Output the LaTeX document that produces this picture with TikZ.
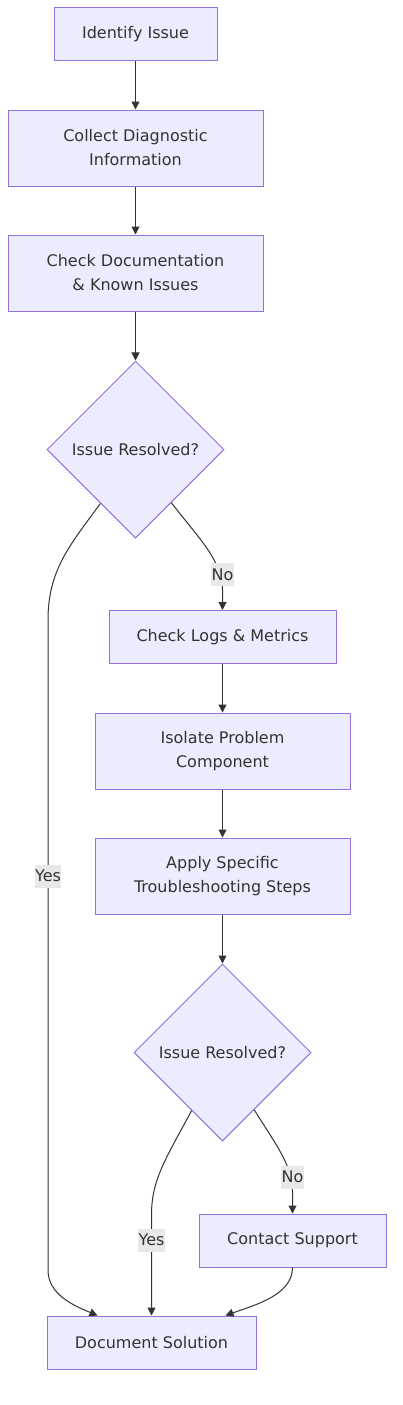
\documentclass[tikz,border=0pt]{standalone}
\usepackage{fontspec}
\setmainfont{DejaVu Sans}
\usetikzlibrary{shapes.geometric,arrows.meta,calc}
\definecolor{boxfill}{HTML}{ECECFF}
\definecolor{boxline}{HTML}{9370DB}
\definecolor{ink}{HTML}{333333}
\definecolor{lblbg}{HTML}{E8E8E8}
\begin{document}
\begin{tikzpicture}[x=1pt,y=-1pt,
  font=\fontsize{16pt}{24pt}\selectfont,
  box/.style={rectangle,draw=boxline,fill=boxfill,line width=1pt,text=ink,align=center,inner sep=0pt},
  dec/.style={diamond,aspect=1,draw=boxline,fill=boxfill,line width=1pt,text=ink,inner sep=0pt,minimum width=177pt,minimum height=177pt},
  edge/.style={draw=ink,line width=1pt,-{Triangle[length=8pt,width=8pt]}},
  lbl/.style={fill=lblbg,text=ink,inner xsep=0.5pt,inner ysep=0pt,minimum height=23pt}]
\useasboundingbox (0,0) rectangle (402,1405);
\node[box,minimum width=163pt,minimum height=53pt] (id) at (135.5,34.5) {Identify Issue};
\node[box,minimum width=255pt,minimum height=76pt] (cd) at (135.5,148) {Collect Diagnostic\\Information};
\node[box,minimum width=255pt,minimum height=76pt] (cdoc) at (135.5,273) {Check Documentation\\\& Known Issues};
\node[dec] (d1) at (135.5,449.5) {Issue Resolved?};
\node[box,minimum width=227pt,minimum height=53pt] (logs) at (222.5,637) {Check Logs \& Metrics};
\node[box,minimum width=255pt,minimum height=76pt] (iso) at (222.5,751) {Isolate Problem\\Component};
\node[box,minimum width=255pt,minimum height=76pt] (app) at (222.5,876) {Apply Specific\\Troubleshooting Steps};
\node[dec] (d2) at (222.5,1052.5) {Issue Resolved?};
\node[box,minimum width=187pt,minimum height=53pt] (cs) at (292.5,1240.5) {Contact Support};
\node[box,minimum width=209pt,minimum height=53pt] (doc) at (151.5,1342.5) {Document Solution};

\draw[edge] (id) -- (cd);
\draw[edge] (cd) -- (cdoc);
\draw[edge] (cdoc) -- (d1);
\draw[edge] (d1.-123) .. controls (70,545) and (48,570) .. (48,620) -- (48,1270) .. controls (48,1295) and (75,1306) .. ($(doc.north)+(-54,0)$);
\draw[edge] (d1.-56) .. controls (200,540) and (222,560) .. (222.5,590) -- (logs.north);
\draw[edge] (logs) -- (iso);
\draw[edge] (iso) -- (app);
\draw[edge] (app) -- (d2);
\draw[edge] (d2.-118) .. controls (165,1160) and (151.5,1180) .. (151.5,1215) -- (doc.north);
\draw[edge] (d2.-61) .. controls (276,1145) and (292.5,1165) .. (292.5,1192) -- (cs.north);
\draw[edge] (cs.south) .. controls (292.5,1295) and (255,1305) .. ($(doc.north)+(74,0)$);

\node[lbl] (l1) at (48,876) {Yes};
\node[lbl] (l2) at (222.5,574.5) {No};
\node[lbl] (l3) at (151.5,1240) {Yes};
\node[lbl] (l4) at (292.5,1177) {No};
\end{tikzpicture}
\end{document}
